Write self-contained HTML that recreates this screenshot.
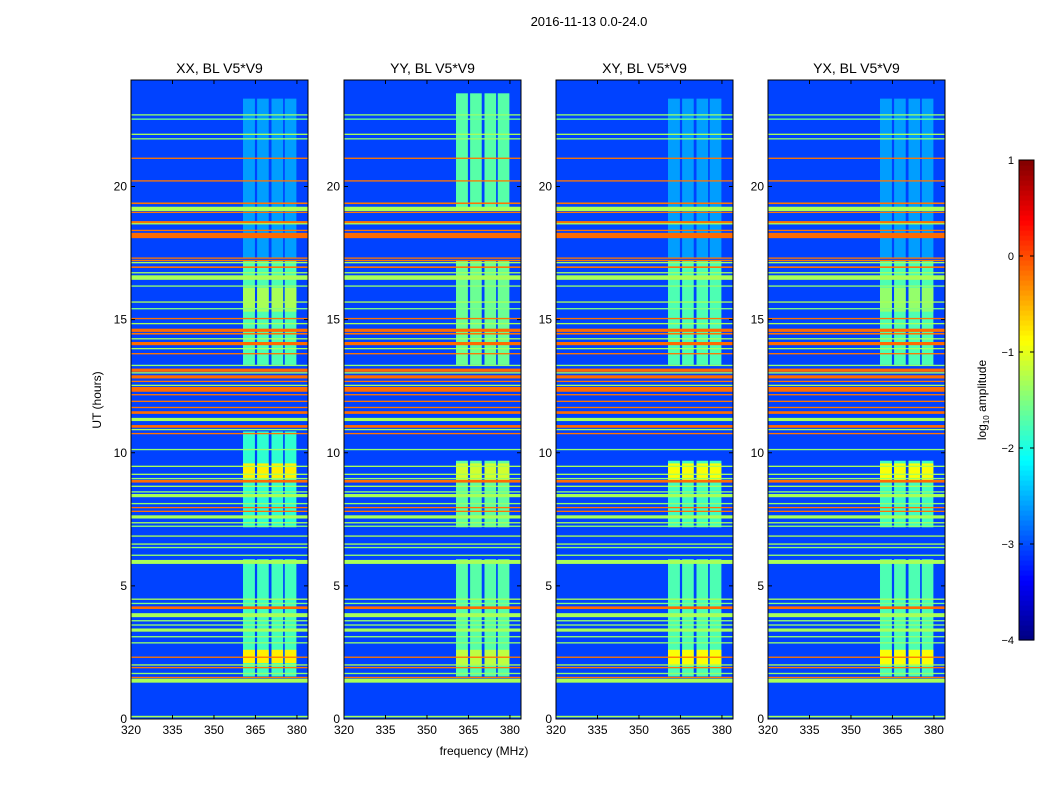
<!DOCTYPE html>
<html><head><meta charset="utf-8"><style>
body{margin:0;background:#fff;width:1050px;height:800px;overflow:hidden;font-family:"Liberation Sans",sans-serif}
svg text{font-family:"Liberation Sans",sans-serif;fill:#000}
</style></head><body>
<svg id="fig" width="1050" height="800" xmlns="http://www.w3.org/2000/svg">
<text x="589" y="26" font-size="13" text-anchor="middle">2016-11-13 0.0-24.0</text>
<text x="484" y="755" font-size="12" text-anchor="middle">frequency (MHz)</text>
<text x="101" y="400" font-size="12" text-anchor="middle" transform="rotate(-90 101 400)">UT (hours)</text>
<text x="986" y="400" font-size="12" text-anchor="middle" transform="rotate(-90 986 400)">log<tspan font-size="8" dy="3">10</tspan><tspan dy="-3"> amplitude</tspan></text>
<g id="panels"></g>
<g id="cbar"></g>
</svg>
<script>
const panelNames=["XX, BL V5*V9","YY, BL V5*V9","XY, BL V5*V9","YX, BL V5*V9"];
const panelLeft=[131,344,556,768];
const xTicks=[320,335,350,365,380];
const yTicks=[0,5,10,15,20];
const cbarTicks=[1,0,-1,-2,-3,-4];
// RFI lines: hour, thickness (hours), log10 amplitude
const lineHours=[22.69,22.53,21.96,21.79,21.06,20.21,19.37,19.16,19.03,18.66,18.60,18.35,18.16,17.31,17.22,17.14,16.97,16.76,16.58,16.26,15.66,15.41,15.04,14.85,14.60,14.47,14.28,14.10,13.91,13.72,13.28,13.10,13.00,12.85,12.68,12.53,12.38,12.18,11.93,11.70,11.51,11.25,10.99,10.87,10.72,10.12,9.49,9.19,9.03,8.93,8.74,8.53,8.39,8.09,7.94,7.80,7.59,7.37,7.24,6.87,6.57,6.44,6.15,5.90,4.50,4.34,4.18,3.90,3.69,3.53,3.34,3.09,2.86,2.32,2.03,1.93,1.71,1.56,1.44,0.09];
const lineWidths=[0.05,0.05,0.05,0.05,0.05,0.05,0.06,0.16,0.05,0.08,0.05,0.05,0.2,0.05,0.05,0.05,0.06,0.05,0.17,0.05,0.05,0.05,0.05,0.05,0.12,0.06,0.05,0.12,0.05,0.05,0.05,0.12,0.05,0.12,0.05,0.05,0.18,0.05,0.05,0.05,0.1,0.12,0.1,0.05,0.05,0.05,0.05,0.05,0.05,0.1,0.05,0.05,0.12,0.05,0.05,0.05,0.12,0.05,0.05,0.05,0.05,0.05,0.05,0.15,0.05,0.05,0.1,0.15,0.05,0.05,0.12,0.05,0.05,0.05,0.05,0.05,0.05,0.05,0.15,0.06];
const lineValues=[-1.4,-1.6,-1.3,-1.4,-0.2,-0.2,-0.2,-1.3,-0.2,-0.2,-1.3,-0.2,-0.15,-0.2,-0.2,-1.3,-0.2,-1.3,-1.3,-1.4,-1.3,-1.5,-0.2,-1.3,-0.15,-0.2,-1.3,-0.15,-1.3,-0.2,-1.4,-0.15,-1.3,-0.15,-0.2,-1.3,-0.15,-0.2,-0.2,-0.2,-0.15,-1.3,-0.15,-1.3,-0.2,-1.4,-1.3,-1.3,-1.4,-0.15,-1.3,-1.4,-1.3,-1.4,-0.2,-0.2,-1.3,-1.3,-1.4,-1.3,-1.3,-1.4,-1.4,-1.3,-1.3,-1.5,-0.15,-1.3,-1.4,-1.4,-1.3,-1.4,-1.4,-0.2,-1.3,-0.2,-1.4,-0.2,-1.3,-1.3];
// vertical band frequency columns (MHz)
const bandFreqStart=[360.5,365.6,370.8,375.6];
const bandFreqEnd=[364.8,369.8,375.0,379.8];
// band time blocks per panel: start hour, end hour, log amplitude
const bandStart=[[17.3,13.3,15.3,7.2,9.0,1.6,2.1],[19.2,13.3,7.2,8.9,1.6,2.0],[17.3,13.3,7.2,8.9,1.6,2.0],[17.3,13.3,15.3,7.2,8.9,1.6,2.0]];
const bandEnd=[[23.3,17.2,16.2,10.8,9.6,6.0,2.6],[23.5,17.2,9.7,9.6,6.0,2.6],[23.3,17.2,9.7,9.6,6.0,2.6],[23.3,17.2,16.2,9.7,9.6,6.0,2.6]];
const bandValue=[[-2.6,-1.75,-1.3,-1.9,-0.8,-1.8,-0.8],[-1.7,-1.6,-1.65,-1.1,-1.7,-1.2],[-2.6,-1.75,-1.8,-0.9,-1.75,-0.9],[-2.6,-1.75,-1.4,-1.8,-0.9,-1.75,-0.9]];
const bgValue=-3.05;

const NS="http://www.w3.org/2000/svg";
const fMin=320,fMax=384,tMin=0,tMax=24,yTop=80,yBot=719,pw=177;
const vmin=-4,vmax=1;
function clamp(v){return Math.max(0,Math.min(1,v));}
function jet(v){const t=(v-vmin)/(vmax-vmin);
 const r=clamp(1.5-Math.abs(4*t-3)),g=clamp(1.5-Math.abs(4*t-2)),b=clamp(1.5-Math.abs(4*t-1));
 return `rgb(${Math.round(r*255)},${Math.round(g*255)},${Math.round(b*255)})`;}
function yS(h){return yBot-(h-tMin)/(tMax-tMin)*(yBot-yTop);}
function mk(tag,attrs,parent){const e=document.createElementNS(NS,tag);for(const k in attrs)e.setAttribute(k,attrs[k]);parent.appendChild(e);return e;}
const G=document.getElementById('panels');
panelNames.forEach((name,p)=>{
 const L=panelLeft[p];
 const xS=f=>L+(f-fMin)/(fMax-fMin)*pw;
 const g=mk('g',{},G);
 
 
 const bg=mk('rect',{x:L,y:yTop,width:pw,height:yBot-yTop,fill:jet(bgValue)},g);
 
 
 bandStart[p].forEach((s,i)=>{
  bandFreqStart.forEach((fs,c)=>{
   const r=mk('rect',{x:xS(fs),y:yS(bandEnd[p][i]),width:xS(bandFreqEnd[c])-xS(fs),height:yS(s)-yS(bandEnd[p][i]),fill:jet(bandValue[p][i])},g);
   
   
  });
 });
 lineHours.forEach((h,i)=>{
  const w=lineWidths[i];
  const r=mk('rect',{x:L,y:yS(h+w/2),width:pw,height:Math.max(1,yS(h-w/2)-yS(h+w/2)),fill:jet(lineValues[i])},g);
  
  
 });
 const fr=mk('rect',{x:L,y:yTop,width:pw,height:yBot-yTop,fill:'none',stroke:'#000','stroke-width':1},g);
 
 
 const tt=mk('text',{x:L+pw/2,y:yTop-7,'font-size':14,'text-anchor':'middle'},g);
 tt.textContent=name;
 
 
 xTicks.forEach(f=>{
  const x=xS(f);
  mk('line',{x1:x,x2:x,y1:yBot,y2:yBot-4,stroke:'#000'},g);
  mk('line',{x1:x,x2:x,y1:yTop,y2:yTop+4,stroke:'#000'},g);
  const t=mk('text',{x:x,y:yBot+15,'font-size':12,'text-anchor':'middle'},g);
  t.textContent=f;
  
  
 });
 yTicks.forEach(h=>{
  const y=yS(h);
  mk('line',{x1:L,x2:L+4,y1:y,y2:y,stroke:'#000'},g);
  mk('line',{x1:L+pw,x2:L+pw-4,y1:y,y2:y,stroke:'#000'},g);
  const t=mk('text',{x:L-4,y:y+4,'font-size':12,'text-anchor':'end'},g);
  t.textContent=h;
  
  
 });
});
// colorbar
const CB=document.getElementById('cbar');


const cx=1019,cw=15,ct=160,cb=640;
for(let i=0;i<96;i++){
 const v=vmin+(i+0.5)/96*(vmax-vmin);
 const y0=cb-(i+1)/96*(cb-ct);
 mk('rect',{x:cx,y:y0,width:cw,height:(cb-ct)/96+0.6,fill:jet(v)},CB);
}
mk('rect',{x:cx,y:ct,width:cw,height:cb-ct,fill:'none',stroke:'#000'},CB);
cbarTicks.forEach(v=>{
 const y=cb-(v-vmin)/(vmax-vmin)*(cb-ct);
 mk('line',{x1:cx,x2:cx+4,y1:y,y2:y,stroke:'#000'},CB);
 mk('line',{x1:cx+cw,x2:cx+cw-4,y1:y,y2:y,stroke:'#000'},CB);
 const t=mk('text',{x:cx-5,y:y+4,'font-size':11,'text-anchor':'end'},CB);
 t.textContent=v<0?'\u2212'+Math.abs(v):String(v);
 
 
});
</script>
</body></html>
